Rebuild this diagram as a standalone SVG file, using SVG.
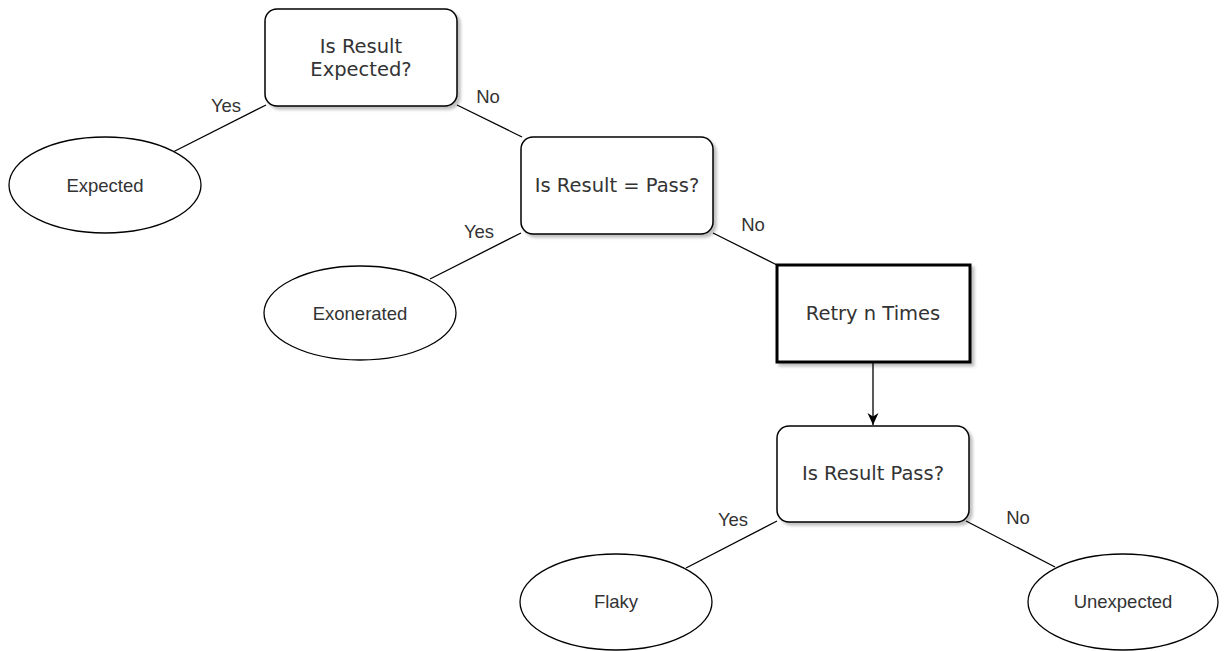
<svg xmlns="http://www.w3.org/2000/svg" width="1230" height="651" viewBox="0 0 1230 651">
<style>
.box{fill:#fff;stroke:#000;stroke-width:1.5;filter:url(#sh)}
.bold{fill:#fff;stroke:#000;stroke-width:3;filter:url(#sh)}
.ell{fill:#fff;stroke:#000;stroke-width:1.3}
.bt{font-family:"DejaVu Sans",sans-serif;font-size:19.5px;fill:#333;text-anchor:middle}
.et{font-family:"Liberation Sans",Arial,sans-serif;font-size:18.5px;fill:#333;text-anchor:middle}
.lt{font-family:"Liberation Sans",Arial,sans-serif;font-size:18.5px;fill:#333;text-anchor:middle}
.ln{fill:none;stroke:#000;stroke-width:1.3}
</style>
<defs>
<filter id="sh" x="-10%" y="-10%" width="130%" height="130%">
<feDropShadow dx="3" dy="3" stdDeviation="1.5" flood-color="#000" flood-opacity="0.25"/>
</filter>
<marker id="arr" viewBox="0 0 12 12" refX="12" refY="6" markerWidth="12" markerHeight="12" markerUnits="userSpaceOnUse" orient="auto">
<path d="M0,0.5 L12,6 L0,11.5 L3.5,6 Z" fill="#000"/>
</marker>
</defs>
<rect width="1230" height="651" fill="#fff"/>
<g id="connectors">
<line class="ln" x1="266" y1="105" x2="173" y2="152"/>
<line class="ln" x1="457" y1="105" x2="522" y2="137"/>
<line class="ln" x1="521" y1="233" x2="430" y2="279"/>
<line class="ln" x1="713" y1="233" x2="777" y2="265"/>
<line class="ln" x1="873" y1="362" x2="873" y2="425" marker-end="url(#arr)"/>
<line class="ln" x1="777" y1="521" x2="686" y2="568"/>
<line class="ln" x1="966" y1="521" x2="1055" y2="567"/>
<text class="lt" x="226" y="112">Yes</text>
<text class="lt" x="488" y="103">No</text>
<text class="lt" x="479" y="238">Yes</text>
<text class="lt" x="753" y="231">No</text>
<text class="lt" x="733" y="526">Yes</text>
<text class="lt" x="1018" y="524">No</text>
</g>
<g id="q1">
<rect class="box" x="265" y="9" width="192" height="97" rx="12"/>
<text class="bt" x="361" y="53">Is Result</text>
<text class="bt" x="361" y="76">Expected?</text>
</g>
<g id="expected">
<ellipse class="ell" cx="105" cy="185" rx="96" ry="48"/>
<text class="et" x="105" y="192">Expected</text>
</g>
<g id="q2">
<rect class="box" x="521" y="137" width="192" height="97" rx="12"/>
<text class="bt" x="617" y="192">Is Result = Pass?</text>
</g>
<g id="exonerated">
<ellipse class="ell" cx="360" cy="313" rx="96" ry="47"/>
<text class="et" x="360" y="320">Exonerated</text>
</g>
<g id="retry">
<rect class="bold" x="777" y="265" width="193" height="97"/>
<text class="bt" x="873" y="320">Retry n Times</text>
</g>
<g id="q3">
<rect class="box" x="777" y="426" width="192" height="96" rx="12"/>
<text class="bt" x="873" y="480">Is Result Pass?</text>
</g>
<g id="flaky">
<ellipse class="ell" cx="616" cy="602" rx="96" ry="48"/>
<text class="et" x="616" y="608">Flaky</text>
</g>
<g id="unexpected">
<ellipse class="ell" cx="1123" cy="602" rx="95" ry="48"/>
<text class="et" x="1123" y="608">Unexpected</text>
</g>
</svg>
